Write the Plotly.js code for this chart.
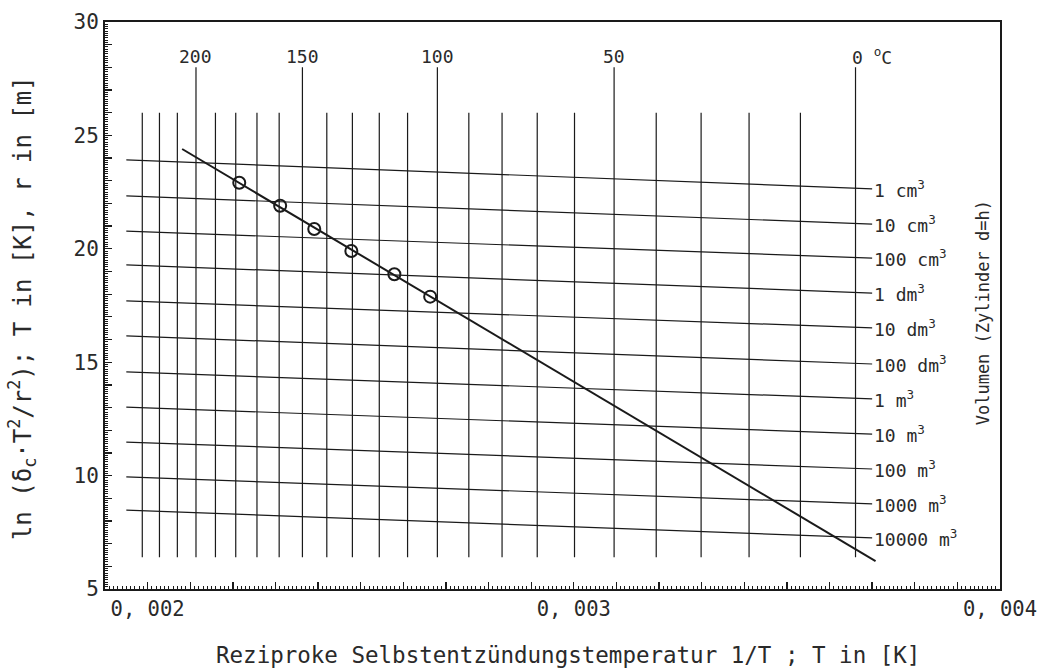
<!DOCTYPE html>
<html><head><meta charset="utf-8">
<script src="https://cdn.plot.ly/plotly-3.0.1.min.js"></script>
<style>body{margin:0;background:#fff}#chart{width:1037px;height:669px}</style>
</head><body><div id="chart"></div>
<script>
// ---- data ----
const gridTempsC = [230,220,210,200,190,180,170,160,150,140,130,120,110,100,90,80,70,60,50,40,30,20,10,0];
const labeledTempsC = [200,150,100,50,0];
const tempLabels = ['200','150','100','50','0 <sup>o</sup>C'];
const volumeLabels = ['1 cm<sup>3</sup>','10 cm<sup>3</sup>','100 cm<sup>3</sup>','1 dm<sup>3</sup>','10 dm<sup>3</sup>','100 dm<sup>3</sup>','1 m<sup>3</sup>','10 m<sup>3</sup>','100 m<sup>3</sup>','1000 m<sup>3</sup>','10000 m<sup>3</sup>'];
const volumeLeftY  = [23.92,22.33,20.78,19.29,17.70,16.16,14.57,13.02,11.48,9.94,8.48];
const volumeRightY = [22.64,21.09,19.59,18.05,16.51,14.92,13.38,11.83,10.29,8.75,7.25];
const volumeXEnds = [0.00195, 0.0037];
const pointsX = [0.002215,0.002311,0.002391,0.002478,0.002579,0.002663];
const pointsY = [22.91,21.90,20.87,19.90,18.88,17.89];
const fitX = [0.002081, 0.003708];
const fitY = [24.40, 6.23];
const xTickVals = [0.002,0.003,0.004];
const xTickLabels = ['0, 002','0, 003','0, 004'];
const yTickVals = [5,10,15,20,25,30];
const yTickLabels = ['5','10','15','20','25','30'];

// ---- layout constants ----
const FONT = 'DejaVu Sans Mono, Liberation Mono, monospace';
const INK = '#1a1a1a';
const TXT = '#2a2a2a';
const gridBottom = 6.4, gridTopShort = 26.0, gridTopLong = 28.0, tempLabelY = 28.5;
const X_RANGE = [0.0019, 0.004], Y_RANGE = [5, 30];

const toX = t => 1/(t+273.15);

// vertical temperature lines
const vx = [], vy = [];
gridTempsC.forEach(t => {
  const top = labeledTempsC.includes(t) ? gridTopLong : gridTopShort;
  vx.push(toX(t), toX(t), null);
  vy.push(gridBottom, top, null);
});
// volume lines
const hx = [], hy = [];
volumeLeftY.forEach((yl, i) => {
  hx.push(volumeXEnds[0], volumeXEnds[1], null);
  hy.push(yl, volumeRightY[i], null);
});

const traces = [
  {x: vx, y: vy, mode: 'lines', line: {color: INK, width: 1.2}, hoverinfo: 'skip', showlegend: false},
  {x: hx, y: hy, mode: 'lines', line: {color: INK, width: 1.2}, hoverinfo: 'skip', showlegend: false},
  {x: fitX, y: fitY, mode: 'lines', line: {color: INK, width: 2}, showlegend: false},
  {x: pointsX, y: pointsY, mode: 'markers', marker: {symbol: 'circle-open', size: 12, color: INK, line: {width: 2, color: INK}}, showlegend: false},
  // empty trace so the fine-tick overlay axes are drawn
  {x: [null], y: [null], xaxis: 'x2', yaxis: 'y2', mode: 'markers', showlegend: false, hoverinfo: 'skip'}
];

const annotations = [];
labeledTempsC.forEach((t, i) => {
  const isZero = t === 0;
  annotations.push({x: toX(t), y: tempLabelY, xref: 'x', yref: 'y', text: tempLabels[i], showarrow: false,
    xanchor: isZero ? 'left' : 'center', xshift: isZero ? -6 : 0, yanchor: 'middle',
    font: {family: FONT, size: 18, color: TXT}});
});
volumeLabels.forEach((lab, i) => {
  annotations.push({x: volumeXEnds[1], y: volumeRightY[i], xref: 'x', yref: 'y', text: lab, showarrow: false,
    xanchor: 'left', xshift: 0, yanchor: 'middle', font: {family: FONT, size: 18, color: TXT}});
});
annotations.push({x: 0.981, y: 0.488, xref: 'paper', yref: 'paper', text: 'Volumen (Zylinder d=h)', textangle: -90,
  showarrow: false, xanchor: 'center', yanchor: 'middle', font: {family: FONT, size: 17, color: TXT}});
annotations.push({x: 0.517, y: -0.116, xref: 'paper', yref: 'paper', text: 'Reziproke Selbstentzündungstemperatur 1/T ; T in [K]',
  showarrow: false, xanchor: 'center', yanchor: 'middle', font: {family: FONT, size: 22.5, color: TXT}});
annotations.push({x: -0.093, y: 0.495, xref: 'paper', yref: 'paper', text: 'ln (δ<sub>c</sub>·T<sup>2</sup>/r<sup>2</sup>); T in [K], r in [m]', textangle: -90,
  showarrow: false, xanchor: 'center', yanchor: 'middle', font: {family: FONT, size: 24, color: TXT}});

const layout = {
  width: 1037, height: 669,
  margin: {l: 105, r: 37, t: 22, b: 80},
  paper_bgcolor: '#fff', plot_bgcolor: '#fff',
  showlegend: false,
  xaxis: {range: X_RANGE, tickmode: 'array', tickvals: xTickVals, ticktext: xTickLabels,
    ticks: 'inside', ticklen: 7, tickwidth: 1.3, tickcolor: INK, ticklabeloverflow: 'allow',
    minor: {dtick: 0.0001, tick0: 0, ticks: 'inside', ticklen: 7, tickwidth: 1.3, tickcolor: INK, showgrid: false},
    showline: true, linecolor: INK, linewidth: 2, mirror: true, showgrid: false, zeroline: false,
    tickfont: {family: FONT, size: 20.5, color: TXT}},
  yaxis: {range: Y_RANGE, tickmode: 'array', tickvals: yTickVals, ticktext: yTickLabels,
    ticks: 'inside', ticklen: 7, tickwidth: 1.3, tickcolor: INK,
    minor: {dtick: 1, tick0: 0, ticks: 'inside', ticklen: 7, tickwidth: 1.3, tickcolor: INK, showgrid: false},
    showline: true, linecolor: INK, linewidth: 2, mirror: true, showgrid: false, zeroline: false,
    tickfont: {family: FONT, size: 21, color: TXT}},
  xaxis2: {range: X_RANGE, overlaying: 'x', side: 'bottom', anchor: 'y2', tickmode: 'linear', tick0: 0, dtick: 0.00001,
    ticks: 'inside', ticklen: 3, tickwidth: 1, tickcolor: INK, showticklabels: false,
    showline: false, showgrid: false, zeroline: false},
  yaxis2: {range: Y_RANGE, overlaying: 'y', side: 'left', anchor: 'x2', tickmode: 'linear', tick0: 0, dtick: 0.1,
    ticks: 'inside', ticklen: 3, tickwidth: 1, tickcolor: INK, showticklabels: false,
    showline: false, showgrid: false, zeroline: false},
  annotations: annotations
};

Plotly.newPlot('chart', traces, layout, {displayModeBar: false, staticPlot: true});
</script>
</body></html>
